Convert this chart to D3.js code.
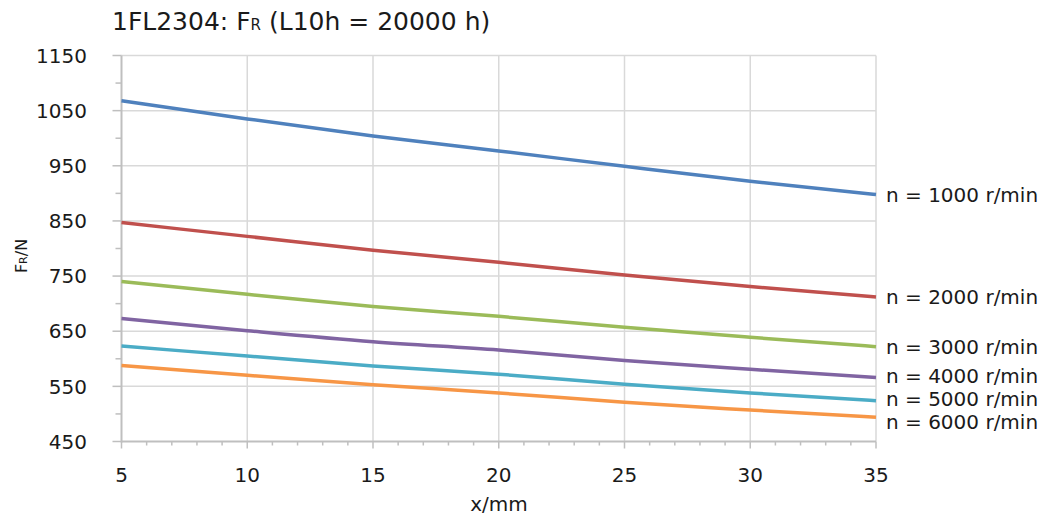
<!DOCTYPE html>
<html><head><meta charset="utf-8">
<script src="https://cdn.jsdelivr.net/npm/d3@7"></script>
<style>
body{margin:0;background:#fff;}
svg text{font-family:"DejaVu Sans",sans-serif;fill:#1a1a1a;}
</style></head>
<body><svg id="c" width="1048" height="518"></svg>
<script>
const xValues = [5, 10, 15, 20, 25, 30, 35];
const seriesNames = ["n = 1000 r/min","n = 2000 r/min","n = 3000 r/min","n = 4000 r/min","n = 5000 r/min","n = 6000 r/min"];
const s1000 = [1068, 1035, 1004, 977, 949, 922, 898];
const s2000 = [847, 822, 797, 775, 752, 731, 712];
const s3000 = [740, 717, 695, 677, 657, 639, 622];
const s4000 = [673, 651, 631, 616, 597, 581, 566];
const s5000 = [623, 605, 587, 572, 554, 538, 524];
const s6000 = [588, 570, 553, 538, 521, 507, 494];
const colors = ["#4F81BD","#C0504D","#9BBB59","#8064A2","#4BACC6","#F79646"];
const xTicks = [5,10,15,20,25,30,35];
const yTicks = [450,550,650,750,850,950,1050,1150];
const allSeries = [s1000,s2000,s3000,s4000,s5000,s6000];

const svg = d3.select("#c");
const x = d3.scaleLinear().domain([5,35]).range([121.5,876]);
const y = d3.scaleLinear().domain([450,1150]).range([441.5,55.5]);

// gridlines
const g = svg.append("g");
g.selectAll(".hg").data(yTicks.slice(1)).enter().append("line")
 .attr("x1",x(5)).attr("x2",x(35)).attr("y1",d=>y(d)).attr("y2",d=>y(d))
 .attr("stroke","#d9d9d9").attr("stroke-width",1.5);
g.selectAll(".vg").data(xTicks.slice(1)).enter().append("line")
 .attr("x1",d=>x(d)).attr("x2",d=>x(d)).attr("y1",y(450)).attr("y2",y(1150))
 .attr("stroke","#d9d9d9").attr("stroke-width",1.5);

// axes
const yMinor = d3.range(500,1150,100);
svg.append("g").selectAll("line").data(yMinor).enter().append("line")
 .attr("x1",x(5)-6).attr("x2",x(5)).attr("y1",d=>y(d)).attr("y2",d=>y(d))
 .attr("stroke","#bfbfbf").attr("stroke-width",1.5);
svg.append("g").selectAll("line").data(yTicks).enter().append("line")
 .attr("x1",x(5)-9).attr("x2",x(5)).attr("y1",d=>y(d)).attr("y2",d=>y(d))
 .attr("stroke","#bfbfbf").attr("stroke-width",1.5);
const xMinor = d3.range(6,35,1).filter(v=>v%5!==0);
svg.append("g").selectAll("line").data(xMinor).enter().append("line")
 .attr("x1",d=>x(d)).attr("x2",d=>x(d)).attr("y1",y(450)).attr("y2",y(450)+4)
 .attr("stroke","#bfbfbf").attr("stroke-width",1.5);
svg.append("g").selectAll("line").data(xTicks).enter().append("line")
 .attr("x1",d=>x(d)).attr("x2",d=>x(d)).attr("y1",y(450)).attr("y2",y(450)+7)
 .attr("stroke","#bfbfbf").attr("stroke-width",1.5);
svg.append("line").attr("x1",x(5)).attr("x2",x(5)).attr("y1",y(1150)).attr("y2",y(450)+1)
 .attr("stroke","#bfbfbf").attr("stroke-width",2);
svg.append("line").attr("x1",x(5)).attr("x2",x(35)).attr("y1",y(450)).attr("y2",y(450))
 .attr("stroke","#bfbfbf").attr("stroke-width",2);

// tick labels
svg.append("g").selectAll("text").data(yTicks).enter().append("text")
 .attr("x",87).attr("y",d=>y(d)).attr("dy","0.36em").attr("text-anchor","end")
 .attr("font-size",20).text(d=>d);
svg.append("g").selectAll("text").data(xTicks).enter().append("text")
 .attr("x",d=>x(d)).attr("y",482).attr("text-anchor","middle")
 .attr("font-size",20).text(d=>d);

// axis titles
svg.append("text").attr("x",499).attr("y",511).attr("text-anchor","middle")
 .attr("font-size",20).text("x/mm");
const yt = svg.append("text").attr("transform","translate(27,256) rotate(-90)")
 .attr("text-anchor","middle").attr("font-size",16);
yt.append("tspan").text("F");
yt.append("tspan").attr("font-size",11).text("R");
yt.append("tspan").text("/N");

// title
const tt = svg.append("text").attr("x",112).attr("y",30).attr("font-size",25);
tt.append("tspan").text("1FL2304: F");
tt.append("tspan").attr("font-size",15).text("R");
tt.append("tspan").text(" (L10h = 20000 h)");

// lines
const line = d3.line().x((d,i)=>x(xValues[i])).y(d=>y(d)).curve(d3.curveMonotoneX);
svg.append("g").selectAll("path").data(allSeries).enter().append("path")
 .attr("d",d=>line(d)).attr("fill","none").attr("stroke",(d,i)=>colors[i])
 .attr("stroke-width",3.5).attr("stroke-linecap","butt");

// end labels with simple collision avoidance
const ly = allSeries.map(s=>y(s[s.length-1]));
const minGap = 23;
for(let it=0; it<100; it++){
  for(let i=0;i<ly.length-1;i++){
    const gap = ly[i+1]-ly[i];
    if(gap<minGap){const d=(minGap-gap)/2; ly[i]-=d; ly[i+1]+=d;}
  }
}
svg.append("g").selectAll("text").data(seriesNames).enter().append("text")
 .attr("x",886).attr("y",(d,i)=>ly[i]).attr("dy","0.36em").attr("font-size",20)
 .text(d=>d);
</script></body></html>
